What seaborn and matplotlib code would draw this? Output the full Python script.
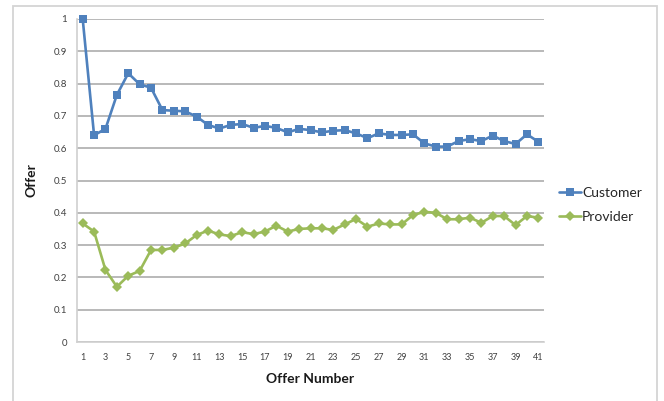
import matplotlib
matplotlib.use("Agg")
import matplotlib.pyplot as plt
from matplotlib.patches import Rectangle
import pandas as pd
import seaborn as sns

# Offer values per round for each party
offer_numbers = list(range(1, 42))
customer = [1.00, 0.64, 0.66, 0.765, 0.832, 0.798, 0.787, 0.718, 0.716, 0.714,
            0.698, 0.672, 0.661, 0.672, 0.675, 0.663, 0.669, 0.663, 0.649, 0.660,
            0.656, 0.649, 0.654, 0.656, 0.646, 0.631, 0.646, 0.641, 0.641, 0.643,
            0.615, 0.605, 0.605, 0.622, 0.628, 0.622, 0.639, 0.622, 0.613, 0.643,
            0.620]
provider = [0.367, 0.342, 0.223, 0.171, 0.205, 0.220, 0.285, 0.285, 0.292, 0.305,
            0.331, 0.345, 0.333, 0.328, 0.340, 0.334, 0.342, 0.360, 0.342, 0.350,
            0.352, 0.352, 0.347, 0.364, 0.381, 0.357, 0.367, 0.364, 0.364, 0.393,
            0.403, 0.400, 0.380, 0.380, 0.385, 0.369, 0.390, 0.390, 0.362, 0.390,
            0.385]
series_names = ["Customer", "Provider"]
series_colors = ["#4F81BD", "#9BBB59"]
series_markers = ["s", "D"]
x_ticks = list(range(1, 42, 2))
x_tick_labels = [str(n) for n in x_ticks]
y_ticks = [0, 0.1, 0.2, 0.3, 0.4, 0.5, 0.6, 0.7, 0.8, 0.9, 1.0]
y_tick_labels = ["0", "0.1", "0.2", "0.3", "0.4", "0.5", "0.6", "0.7", "0.8", "0.9", "1"]

df = pd.DataFrame({
    "Offer Number": offer_numbers * 2,
    "Offer": customer + provider,
    "Series": [series_names[0]] * len(customer) + [series_names[1]] * len(provider),
})

sns.set_theme(style="white")
plt.rcParams["font.family"] = ["Lato", "DejaVu Sans"]

W, H = 664, 401
fig = plt.figure(figsize=(W / 100, H / 100), dpi=100)
ax = fig.add_axes([77 / W, 1 - 342 / H, (544 - 77) / W, (342 - 19) / H])

sns.lineplot(
    data=df, x="Offer Number", y="Offer", hue="Series", style="Series",
    palette=dict(zip(series_names, series_colors)),
    markers=dict(zip(series_names, series_markers)),
    dashes=False, linewidth=1.9, markersize=5.4, markeredgewidth=0,
    clip_on=False, ax=ax,
)

ax.set_xlim(0.5, 41.5)
ax.set_ylim(0, 1)
ax.set_xticks(x_ticks)
ax.set_xticklabels(x_tick_labels, fontsize=6.5, color="#404040")
ax.set_yticks(y_ticks)
ax.set_yticklabels(y_tick_labels, fontsize=7, color="#404040")
ax.tick_params(axis="x", length=0, pad=8)
ax.tick_params(axis="y", length=0, pad=7)

ax.yaxis.grid(True, color="#adadad", linewidth=1.2)
ax.xaxis.grid(False)
ax.set_axisbelow(True)
for side in ("top", "right"):
    ax.spines[side].set_visible(False)
for side in ("left", "bottom"):
    ax.spines[side].set_color("#d0d0d0")
    ax.spines[side].set_linewidth(1.2)

ax.set_xlabel("Offer Number", fontsize=10, fontweight="bold", color="#1a1a1a", labelpad=8)
ax.set_ylabel("Offer", fontsize=10, fontweight="bold", color="#1a1a1a", labelpad=12)

handles, labels = ax.get_legend_handles_labels()
pairs = [(h, l) for h, l in zip(handles, labels) if l in series_names]
ax.legend(
    [p[0] for p in pairs], [p[1] for p in pairs],
    loc="center left", bbox_to_anchor=(546 / W, 1 - 205 / H),
    bbox_transform=fig.transFigure, frameon=False, fontsize=10,
    handlelength=1.6, handletextpad=0.1, labelspacing=0.85,
)

# outer chart border
fig.patches.append(Rectangle((13 / W, -0.02), (657 - 13) / W, 1.02 - 6.5 / H,
                             transform=fig.transFigure, fill=False,
                             edgecolor="#d4d4d4", linewidth=1.3))

fig.savefig("out.png", dpi=100, facecolor="white")
